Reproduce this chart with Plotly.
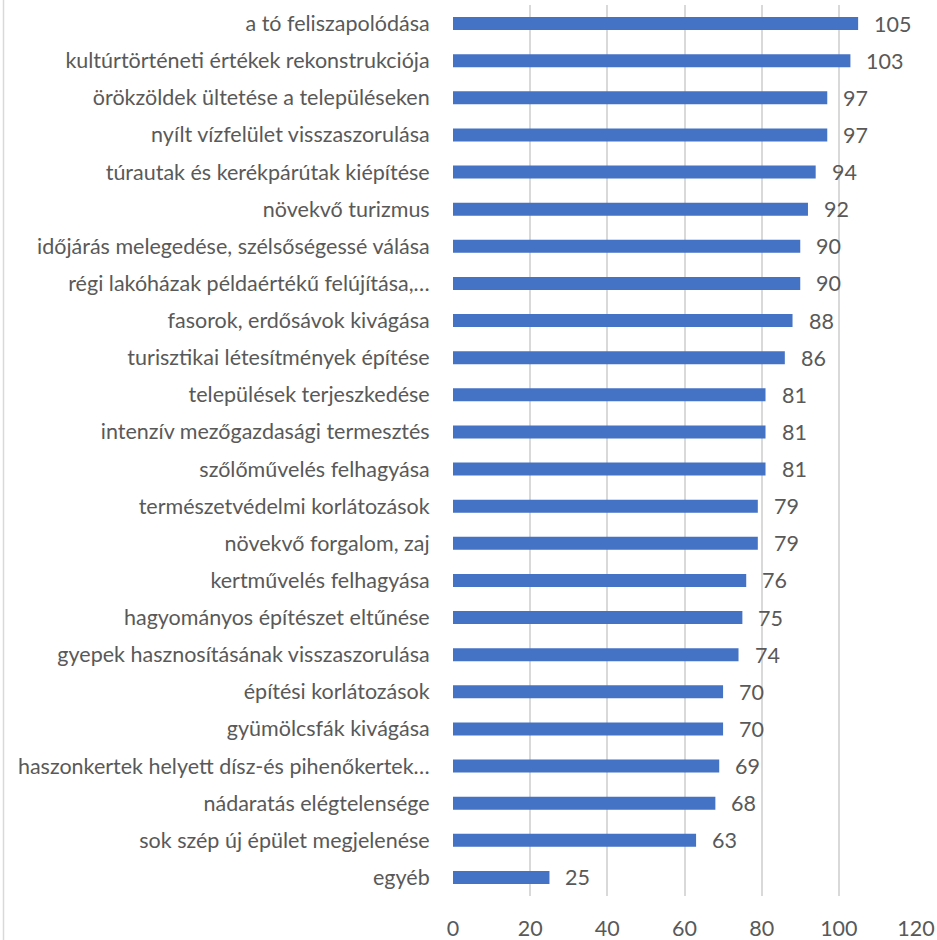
import plotly.graph_objects as go

categories = [
    "a tó feliszapolódása",
    "kultúrtörténeti értékek rekonstrukciója",
    "örökzöldek ültetése a településeken",
    "nyílt vízfelület visszaszorulása",
    "túrautak és kerékpárútak kiépítése",
    "növekvő turizmus",
    "időjárás melegedése, szélsőségessé válása",
    "régi lakóházak példaértékű felújítása,…",
    "fasorok, erdősávok kivágása",
    "turisztikai létesítmények építése",
    "települések terjeszkedése",
    "intenzív mezőgazdasági termesztés",
    "szőlőművelés felhagyása",
    "természetvédelmi korlátozások",
    "növekvő forgalom, zaj",
    "kertművelés felhagyása",
    "hagyományos építészet eltűnése",
    "gyepek hasznosításának visszaszorulása",
    "építési korlátozások",
    "gyümölcsfák kivágása",
    "haszonkertek helyett dísz-és pihenőkertek…",
    "nádaratás elégtelensége",
    "sok szép új épület megjelenése",
    "egyéb",
]
values = [105, 103, 97, 97, 94, 92, 90, 90, 88, 86, 81, 81, 81, 79, 79,
          76, 75, 74, 70, 70, 69, 68, 63, 25]
x_ticks = [0, 20, 40, 60, 80, 100, 120]

TEXT = "#595959"
GRID = "#D9D9D9"
FONT = "Lato"
FS = 21.5

fig = go.Figure()
fig.add_trace(go.Bar(
    x=values, y=categories, orientation="h",
    marker=dict(color="#4472C4", line=dict(width=0)),
    width=0.35,
    hoverinfo="x+y",
))

# value labels to the right of each bar
for c, v in zip(categories, values):
    fig.add_annotation(x=v, y=c, text=str(v), showarrow=False,
                       xanchor="left", yanchor="middle", xshift=14, yshift=0,
                       font=dict(family=FONT, size=FS, color=TEXT))

W, H = 937, 940
L, R, T, B = 453, 21, 5, 44
pw, ph = W - L - R, H - T - B

# thin frame line on the left edge of the chart area
fig.add_shape(type="line", xref="paper", yref="paper",
              x0=(3.5 - L) / pw, x1=(3.5 - L) / pw,
              y0=-B / ph, y1=(H - B) / ph,
              line=dict(color=GRID, width=1.5))

fig.update_layout(
    width=W, height=H,
    margin=dict(l=L, r=R, t=T, b=B, autoexpand=False),
    paper_bgcolor="white", plot_bgcolor="white",
    showlegend=False,
    font=dict(family=FONT, size=FS, color=TEXT),
    xaxis=dict(range=[0, 120], tickvals=x_ticks, showgrid=True,
               gridcolor=GRID, gridwidth=1.5, zeroline=False,
               showline=False, ticks="outside", ticklen=13,
               tickcolor="rgba(0,0,0,0)", automargin=False,
               tickfont=dict(family=FONT, size=FS, color=TEXT)),
    yaxis=dict(autorange="reversed", showgrid=False, zeroline=False,
               showline=False, ticks="outside", ticklen=18,
               tickcolor="rgba(0,0,0,0)", automargin=False,
               tickfont=dict(family=FONT, size=FS, color=TEXT)),
)

fig.write_html("out.html")
